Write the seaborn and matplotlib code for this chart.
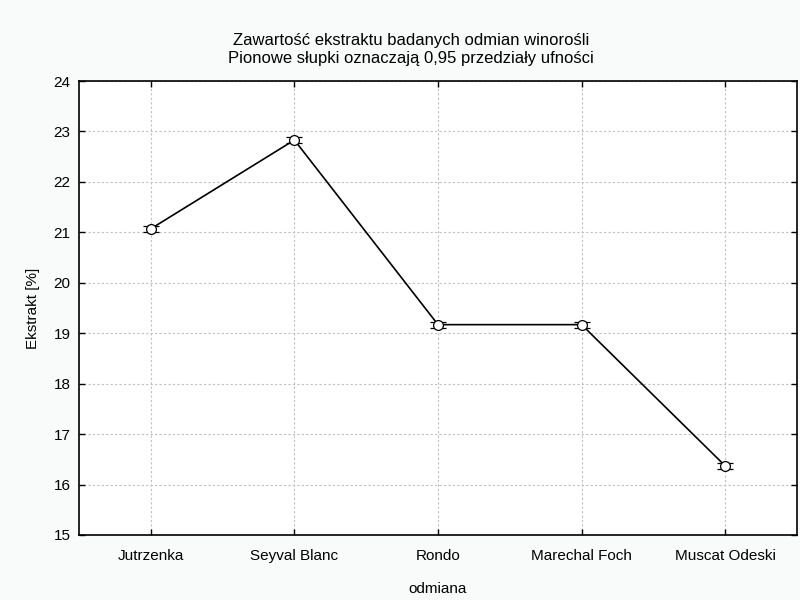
import matplotlib
matplotlib.use("Agg")
import matplotlib.pyplot as plt
import seaborn as sns
import pandas as pd

odmiana = ["Jutrzenka", "Seyval Blanc", "Rondo", "Marechal Foch", "Muscat Odeski"]
ekstrakt = [21.07, 22.83, 19.17, 19.17, 16.37]
ci_half = [0.06, 0.06, 0.06, 0.06, 0.06]
yticks = [15, 16, 17, 18, 19, 20, 21, 22, 23, 24]

sns.set_theme(style="white")
plt.rcParams['font.family'] = ['Liberation Sans', 'DejaVu Sans']

df = pd.DataFrame({"odmiana": odmiana, "ekstrakt": ekstrakt})

fig = plt.figure(figsize=(8, 6), dpi=100, facecolor="#f9fbfb")
ax = fig.add_axes([79/800, 1-535/600, (797-79)/800, (535-81)/600])
ax.set_facecolor("white")

ax.errorbar(range(len(odmiana)), ekstrakt, yerr=ci_half, fmt="none",
            ecolor="black", elinewidth=0.9, capsize=5.5, capthick=0.9, zorder=3)
sns.pointplot(data=df, x="odmiana", y="ekstrakt", errorbar=None, color="black",
              linewidth=1.2, markers="o", markersize=0, ax=ax, zorder=4)
ax.scatter(range(len(odmiana)), ekstrakt, s=50, facecolor="white",
           edgecolor="black", linewidth=0.9, zorder=5)

ax.set_xlim(-0.5, 4.5)
ax.set_ylim(15, 24)
ax.set_yticks(yticks)
ax.set_yticklabels([str(t) for t in yticks])
ax.grid(True, linestyle=(0, (2, 2)), color="#c0c0c0", linewidth=0.8)
for s in ax.spines.values():
    s.set_color("black")
    s.set_linewidth(1.2)
ax.tick_params(axis="both", direction="in", length=4, width=1, colors="black",
               labelsize=11, top=True, right=True, bottom=True, left=True,
               labeltop=False, labelright=False, pad=6)
ax.tick_params(axis="x", pad=10)
ax.set_xlabel("odmiana", fontsize=11, labelpad=14, color="black")
ax.set_ylabel("Ekstrakt [%]", fontsize=11, labelpad=10, color="black")

fig.text(0.514, 1-40/600, "Zawartość ekstraktu badanych odmian winorośli",
         ha="center", va="center", fontsize=12, color="black")
fig.text(0.514, 1-58/600, "Pionowe słupki oznaczają 0,95 przedziały ufności",
         ha="center", va="center", fontsize=12, color="black")

fig.savefig("out.png", dpi=100, facecolor=fig.get_facecolor())
